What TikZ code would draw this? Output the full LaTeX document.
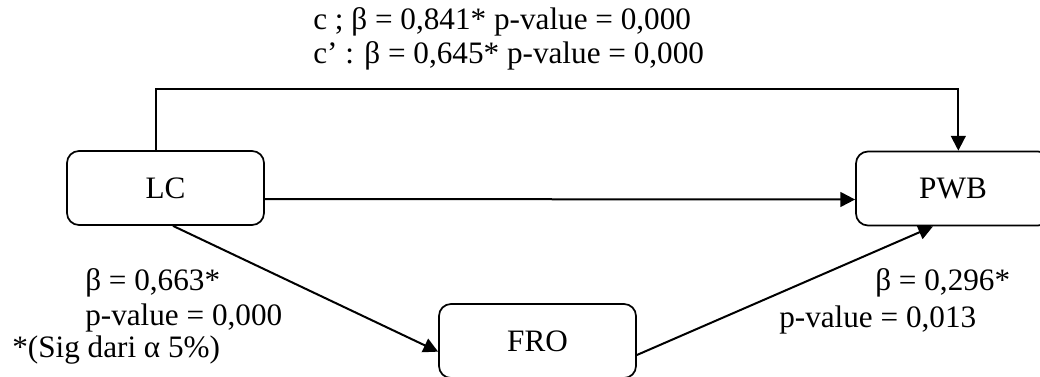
\documentclass[tikz,border=0pt]{standalone}
\usepackage{fontspec}
\setmainfont{Liberation Serif}
\usetikzlibrary{arrows.meta}
\begin{document}
\begin{tikzpicture}[x=0.75pt,y=-0.75pt,
  font=\fontsize{23.4}{27}\selectfont,
  varbox/.style={draw,line width=1.3pt,rounded corners=9pt,minimum width=147.75pt,minimum height=55.5pt,inner sep=0pt},
  arr/.style={line width=1.5pt,-{Triangle[length=11pt,width=11pt]}},
  lbl/.style={anchor=base west,inner sep=0pt}]
\useasboundingbox (0,0) rectangle (1040,376);
\clip (0,0) rectangle (1040,376);
\node[varbox] (LC) at (165.5,188) {LC};
\node[varbox,minimum width=145.5pt] (PWB) at (953,188.5) {PWB};
\node[varbox] (FRO) at (537.5,341) {FRO};
\draw[arr] ([xshift=-7pt]LC.north) -- ++(0,-61) -| ([xshift=4pt]PWB.north);
\draw[arr] ([yshift=-8.25pt]LC.east) -- ([yshift=-8.25pt]PWB.west);
\draw[arr] ([xshift=5.6pt]LC.south) -- ([yshift=-8pt]FRO.west);
\draw[arr] ([yshift=-10.5pt]FRO.east) -- ([xshift=-15pt]PWB.south);
\node[lbl] (t1) at (313,29) {c ; β = 0,841* p-value = 0,000};
\node[lbl] (t2) at (313,63) {c’ : β = 0,645* p-value = 0,000};
\node[lbl] (a1) at (85,290) {β = 0,663*};
\node[lbl] (a2) at (85,325) {p-value = 0,000};
\node[lbl] (a3) at (12,357) {*(Sig dari α 5\%)};
\node[lbl] (b1) at (875,290) {β = 0,296*};
\node[lbl] (b2) at (779,327) {p-value = 0,013};
\end{tikzpicture}
\end{document}
